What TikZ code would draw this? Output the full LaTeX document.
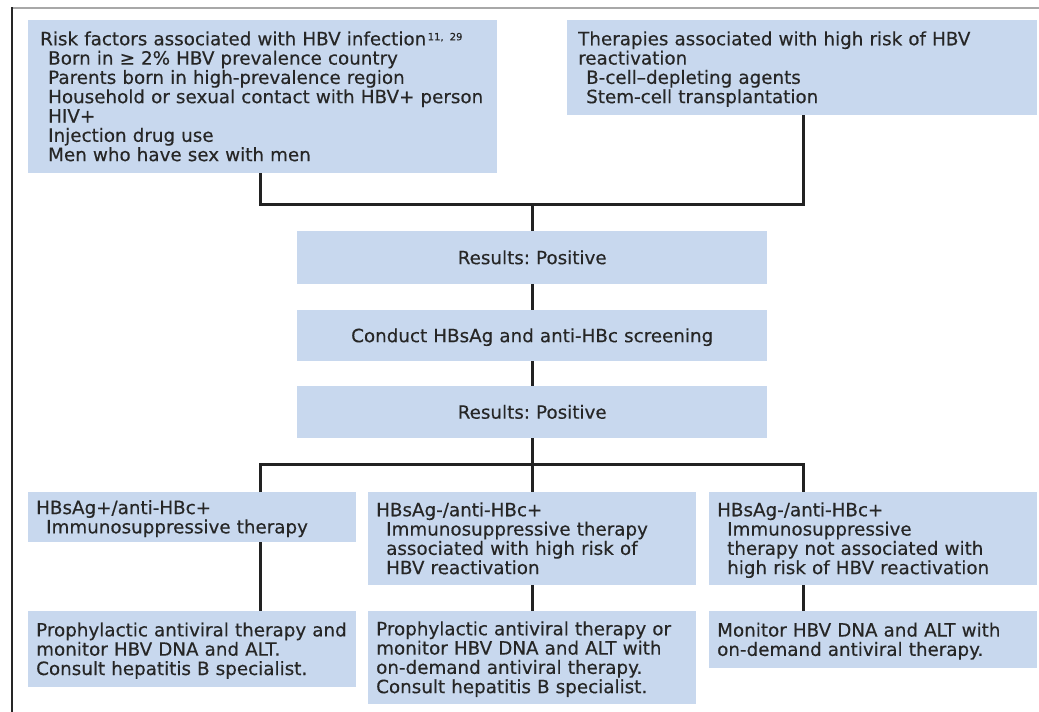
\documentclass[tikz,border=0pt]{standalone}
\usepackage{fontspec}
\setmainfont{DejaVu Sans}[FakeBold=0.35]
\usetikzlibrary{calc}
\definecolor{boxblue}{HTML}{C8D8EE}
\definecolor{txt}{HTML}{262626}
\definecolor{connc}{HTML}{222222}
\definecolor{framegray}{HTML}{A8A8A8}
\newcommand\topstr{\rule{0pt}{18pt}}
\newcommand\botstr{\rule[-5pt]{0pt}{5pt}}
\frenchspacing
\begin{document}
\begin{tikzpicture}[x=1pt,y=-1pt,
  every node/.style={text=txt, font=\fontsize{18.3}{19.3}\selectfont\frenchspacing},
  box/.style={fill=boxblue, anchor=north west, inner ysep=0pt, align=left},
  topbox/.style={box, inner xsep=12pt},
  lowbox/.style={box, inner xsep=8pt, minimum width=328pt, text width=312pt},
  midbox/.style={fill=boxblue, anchor=north west, inner sep=0pt, align=center,
                 minimum width=470pt, text width=470pt},
  link/.style={draw=connc, line width=3pt, line join=miter}]
\useasboundingbox (0,0) rectangle (1039,712);

% frame
\draw[draw=framegray, line width=2pt] (12,8) -- (1039,8);
\draw[draw=black!85, line width=1.3pt] (12,7) -- (12,712);

% top boxes
\node[topbox, minimum width=469pt, minimum height=153pt, text width=445pt] (risk) at (28,20)
 {\topstr Risk factors associated with HBV infection\hspace{1.5pt}\raisebox{5pt}{\fontsize{10}{10}\selectfont 11, 29}\\
  \hspace*{8pt}Born in ≥ 2\% HBV prevalence country\\
  \hspace*{8pt}Parents born in high-prevalence region\\
  \hspace*{8pt}Household or sexual contact with HBV+ person\\
  \hspace*{8pt}HIV+\\
  \hspace*{8pt}Injection drug use\\
  \hspace*{8pt}Men who have sex with men\botstr};

\node[topbox, inner xsep=11pt, minimum width=470pt, minimum height=95pt, text width=448pt] (ther) at (567,20)
 {\topstr Therapies associated with high risk of HBV\\
  reactivation\\
  \hspace*{8pt}B-cell–depleting agents\\
  \hspace*{8pt}Stem-cell transplantation\botstr};

% middle column
\node[midbox, minimum height=53pt] (res1) at (297,231) {\topstr Results: Positive\botstr};
\node[midbox, minimum height=51pt] (screen) at (297,310) {\topstr Conduct HBsAg and anti-HBc screening\botstr};
\node[midbox, minimum height=52pt] (res2) at (297,386) {\topstr Results: Positive\botstr};

% lower boxes
\node[lowbox, minimum height=50pt] (a1) at (28,492)
 {\topstr HBsAg+/anti-HBc+\\
  \hspace*{10pt}Immunosuppressive therapy\botstr};
\node[lowbox, minimum height=93pt] (b1) at (368,492)
 {\topstr HBsAg-/anti-HBc+\\
  \hspace*{10pt}Immunosuppressive therapy\\
  \hspace*{10pt}associated with high risk of\\
  \hspace*{10pt}HBV reactivation\botstr};
\node[lowbox, minimum height=93pt] (c1) at (709,492)
 {\topstr HBsAg-/anti-HBc+\\
  \hspace*{10pt}Immunosuppressive\\
  \hspace*{10pt}therapy not associated with\\
  \hspace*{10pt}high risk of HBV reactivation\botstr};

\node[lowbox, minimum height=76pt] (a2) at (28,611)
 {\topstr Prophylactic antiviral therapy and\\
  monitor HBV DNA and ALT.\\
  Consult hepatitis B specialist.\botstr};
\node[lowbox, minimum height=93pt] (b2) at (368,611)
 {\topstr Prophylactic antiviral therapy or\\
  monitor HBV DNA and ALT with\\
  on-demand antiviral therapy.\\
  Consult hepatitis B specialist.\botstr};
\node[lowbox, minimum height=57pt] (c2) at (709,611)
 {\topstr Monitor HBV DNA and ALT with\\
  on-demand antiviral therapy.\botstr};

% connectors
\coordinate (tl) at (260,204);
\coordinate (tr) at (803,204);
\coordinate (bl) at (260,464);
\coordinate (br) at (803,464);

\draw[link] (risk.south -| tl) -- (tl) -- (tr) -- (ther.south -| tr);
\draw[link] (res1.north |- tl) -- (res1.north);
\draw[link] (res1.south) -- (screen.north);
\draw[link] (screen.south) -- (res2.north);
\draw[link] (res2.south) -- (res2.south |- b1.north);
\draw[link] (a1.north -| bl) -- (bl) -- (br) -- (c1.north -| br);
\draw[link] (a1.south -| bl) -- (a2.north -| bl);
\draw[link] (b1.south -| res2.south) -- (b2.north -| res2.south);
\draw[link] (c1.south -| br) -- (c2.north -| br);
\end{tikzpicture}
\end{document}
